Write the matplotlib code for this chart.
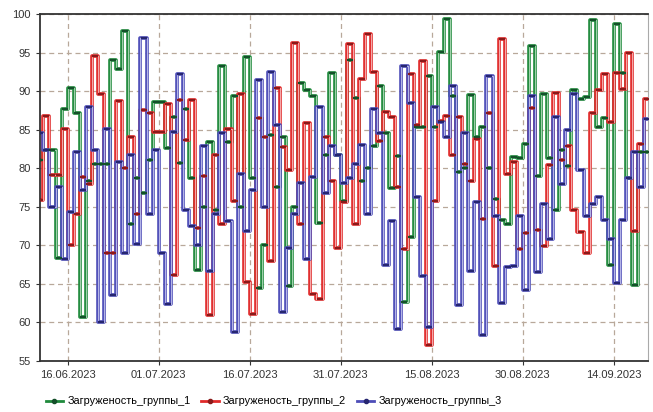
import numpy as np
import matplotlib
matplotlib.use("Agg")
import matplotlib.pyplot as plt
import matplotlib.dates as mdates
from matplotlib.lines import Line2D

# daily load values, first day 11.06.2023
start_day = np.datetime64("2023-06-11")

group_1 = [81.1, 82.3, 82.3, 68.4, 87.7, 90.4, 87.1, 60.7, 78.3, 80.5,
           80.5, 80.5, 94.0, 92.9, 97.8, 72.7, 78.7, 76.8, 81.0, 88.6,
           88.6, 82.6, 86.7, 80.7, 87.7, 78.7, 66.8, 75.0, 83.4, 74.6,
           93.3, 83.4, 89.3, 75.0, 94.4, 78.7, 64.5, 70.0, 84.3, 77.5,
           84.1, 64.7, 75.0, 91.0, 90.1, 89.3, 72.9, 81.7, 92.4, 81.7,
           75.7, 94.0, 89.1, 78.3, 80.0, 82.9, 90.7, 84.6, 77.4, 81.6,
           62.7, 71.1, 85.3, 85.4, 92.0, 85.4, 95.1, 99.4, 89.3, 79.5,
           80.0, 89.5, 84.1, 85.3, 80.0, 76.0, 73.3, 72.7, 81.5, 81.3,
           83.2, 95.9, 79.0, 89.6, 81.3, 74.6, 82.3, 80.3, 90.1, 89.0,
           89.2, 99.2, 85.3, 86.5, 67.4, 98.7, 92.4, 78.7, 64.9, 82.1,
           82.1]

group_2 = [75.9, 86.8, 79.1, 79.1, 85.1, 70.1, 74.1, 78.9, 78.0, 94.6,
           89.6, 69.0, 69.0, 88.7, 80.0, 84.1, 74.1, 87.5, 87.1, 84.7,
           84.7, 88.3, 66.2, 88.9, 83.6, 88.9, 72.3, 79.0, 60.9, 81.7,
           72.7, 85.1, 75.7, 89.6, 65.2, 61.1, 86.5, 84.1, 68.0, 90.4,
           82.8, 79.8, 96.2, 72.7, 85.8, 63.7, 63.0, 84.1, 78.3, 69.7,
           75.6, 96.1, 72.7, 91.6, 97.4, 92.5, 83.5, 87.3, 86.7, 77.5,
           69.5, 92.2, 85.6, 93.9, 57.0, 75.7, 86.1, 86.8, 81.7, 86.6,
           80.5, 78.3, 83.8, 73.4, 87.1, 67.3, 96.7, 79.2, 80.8, 69.5,
           71.6, 87.8, 72.0, 69.9, 80.4, 89.7, 81.1, 82.9, 74.6, 71.7,
           69.0, 87.1, 90.1, 92.2, 86.0, 92.4, 90.3, 95.0, 71.8, 83.2,
           89.0]

group_3 = [84.6, 82.3, 75.0, 77.6, 68.2, 74.3, 82.1, 77.2, 87.9, 82.3,
           60.0, 85.1, 63.6, 80.8, 69.0, 81.7, 70.2, 96.9, 74.1, 82.3,
           69.0, 62.4, 84.7, 92.2, 74.6, 72.5, 70.1, 82.9, 66.7, 74.1,
           84.5, 73.1, 58.7, 79.3, 71.8, 77.2, 91.4, 75.0, 92.5, 85.6,
           61.3, 69.7, 74.0, 78.1, 68.2, 78.9, 88.0, 76.8, 82.9, 81.7,
           78.1, 78.7, 80.5, 83.0, 74.0, 87.7, 84.5, 67.4, 73.2, 59.2,
           93.3, 88.4, 76.3, 66.0, 59.4, 88.0, 86.0, 84.1, 90.6, 62.3,
           84.5, 66.7, 75.6, 58.4, 92.0, 73.8, 62.5, 67.2, 67.3, 73.8,
           64.2, 89.4, 66.5, 75.3, 70.8, 86.6, 78.0, 84.9, 89.6, 79.8,
           73.8, 75.3, 76.3, 73.3, 70.8, 65.1, 73.3, 78.7, 82.1, 77.6,
           86.4]

labels = ["Загруженость_группы_1", "Загруженость_группы_2", "Загруженость_группы_3"]
tick_dates = ["2023-06-16", "2023-07-01", "2023-07-16", "2023-07-31",
              "2023-08-15", "2023-08-30", "2023-09-14"]
colors = ["#1f8a3c", "#e02a2a", "#4d4db8"]
inner = ["#9fd0aa", "#f4a8a8", "#b4b4e6"]
dark = ["#14502a", "#8a1a1a", "#262670"]

plt.rcParams['font.family'] = ['Liberation Sans', 'DejaVu Sans']

fig = plt.figure(figsize=(6.53, 4.12), dpi=100)
ax = fig.add_axes([0.061, 0.124, 0.931, 0.842])

days = start_day + np.arange(len(group_1) + 1).astype("timedelta64[D]")
mids = start_day + np.arange(len(group_1)).astype("timedelta64[h]") * 24 + np.timedelta64(12, "h")

for vals, c, ci, cd in zip([group_1, group_2, group_3], colors, inner, dark):
    v = np.append(vals, vals[-1])
    ax.step(days, v, where="post", color=c, lw=2.6, zorder=2)
    ax.step(days, v, where="post", color=ci, lw=0.8, zorder=2)
    ax.plot(mids, vals, ls="none", marker="_", ms=4, mew=1.6, color=cd, zorder=3)

ax.set_ylim(55, 100)
ax.set_yticks(np.arange(55, 101, 5))
ax.set_xlim(start_day + np.timedelta64(10, "h"), start_day + np.timedelta64(100 * 24 + 14, "h"))
ax.set_xticks([np.datetime64(d) for d in tick_dates])
ax.xaxis.set_major_formatter(mdates.DateFormatter("%d.%m.%Y"))

ax.grid(True, ls=(0, (4, 3)), color="#b8a89a", lw=0.9)
ax.set_axisbelow(True)
ax.tick_params(labelsize=8, colors="#333333", length=3)
for s in ax.spines.values():
    s.set_color("#333333")
    s.set_linewidth(1.3)
ax.spines["right"].set_color("#aaaaaa")
ax.spines["right"].set_linewidth(0.8)

handles = [Line2D([], [], color=c, lw=2, marker="o", ms=3, mfc=cd, mec=cd) for c, cd in zip(colors, dark)]
fig.legend(handles, labels, loc="lower left", bbox_to_anchor=(0.055, -0.01), ncol=3,
           frameon=False, fontsize=7.8, handlelength=1.6, columnspacing=1.0, handletextpad=0.4)

plt.savefig("out.png", dpi=100)
